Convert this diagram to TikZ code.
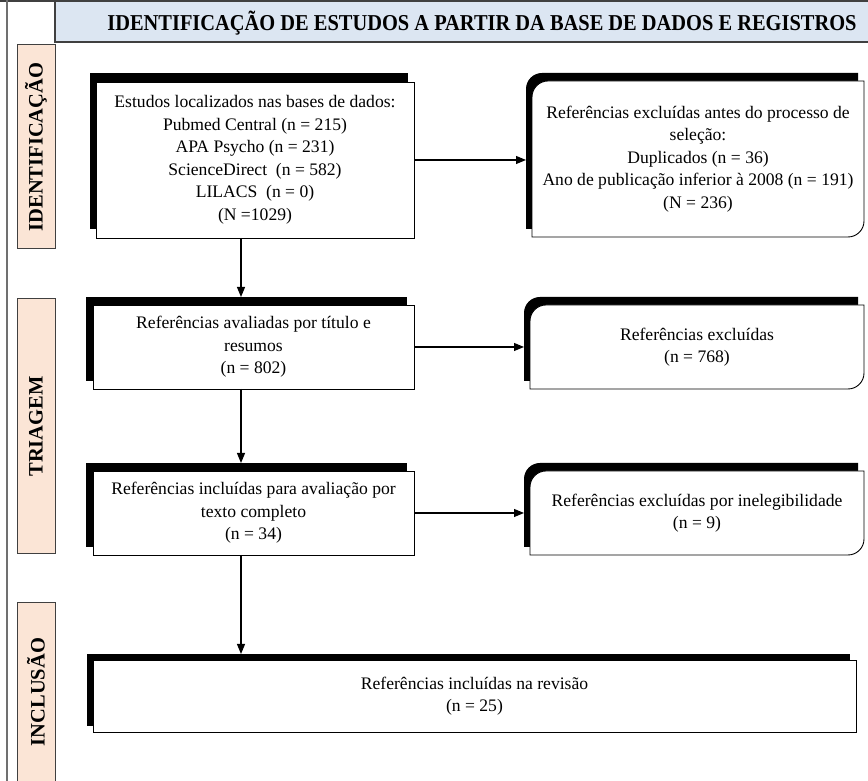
\documentclass[tikz,border=0pt]{standalone}
\usepackage{fontspec}
\setmainfont{Liberation Serif}
\newfontfamily\hdrfont[FakeStretch=0.9]{Liberation Serif}
\usetikzlibrary{arrows.meta,calc,backgrounds}
\definecolor{hdrblue}{HTML}{DCE6F2}
\definecolor{peach}{HTML}{FBE5D6}
\definecolor{framegray}{HTML}{404040}
\definecolor{linegray}{HTML}{707070}
\newcommand{\roundedbox}[1]{%
  \begin{pgfonlayer}{background}
  \fill[black] ($(#1.south west)+(-6,8)$) -- ($(#1.north west)+(-6,-8)$)
     arc[start angle=180,end angle=90,radius=16] -- ($(#1.north east)+(-6,8)$)
     -- ($(#1.south east)+(-6,24)$) arc[start angle=0,end angle=-90,radius=16] -- cycle;
  \filldraw[fill=white,draw=black,line width=0.9pt] (#1.south west) -- ($(#1.north west)+(0,-16)$)
     arc[start angle=180,end angle=90,radius=16] -- (#1.north east)
     -- ($(#1.south east)+(0,16)$) arc[start angle=0,end angle=-90,radius=16] -- cycle;
  \end{pgfonlayer}}
\begin{document}
\begin{tikzpicture}[x=1pt,y=1pt,
  every node/.style={inner sep=0pt,outer sep=0pt},
  txt/.style={font=\fontsize{17.6}{22.5}\selectfont, align=center, text=black},
  mainbox/.style={draw=black, line width=0.9pt, fill=white},
  shadowbox/.style={fill=black, draw=none},
  sidebox/.style={draw=framegray, line width=1pt, fill=peach},
  sidelabel/.style={font=\fontsize{20.5}{24}\selectfont\bfseries},
  conn/.style={line width=1.1pt, -{Triangle[length=10pt,width=8pt]}}
]
\useasboundingbox (0,0) rectangle (868,781);
% outer frame
\draw[framegray, line width=2pt] (0,780) -- (868,780);
\draw[linegray, line width=1.2pt] (7,781) -- (7,0);
% header
\node[draw=framegray, line width=1.2pt, fill=hdrblue, minimum width=817, minimum height=41] (hdr) at (463.5,759.5) {};
\node[font=\hdrfont\fontsize{22.7}{26}\selectfont\bfseries] (htitle) at (482,758) {IDENTIFICAÇÃO DE ESTUDOS A PARTIR DA BASE DE DADOS E REGISTROS};
% side labels
\node[sidebox, minimum width=38, minimum height=204] (side1) at (36,634) {};
\node[sidelabel, rotate=90] (lab1) at (side1) {IDENTIFICAÇÃO};
\node[sidebox, minimum width=38, minimum height=255] (side2) at (36,354.5) {};
\node[sidelabel, rotate=90] (lab2) at (side2) {TRIAGEM};
\node[sidebox, minimum width=38, minimum height=184] (side3) at (36,86) {};
\node[sidelabel, rotate=90] (lab3) at (36,89) {INCLUSÃO};
% box 1
\node[shadowbox, minimum width=318, minimum height=156] (s1) at (249,630) {};
\node[mainbox, txt, minimum width=318, minimum height=156] (b1) at (255,621) {Estudos localizados nas bases de dados:\\Pubmed Central (n = 215)\\APA Psycho (n = 231)\\ScienceDirect\ \ (n = 582)\\LILACS\ \ (n = 0)\\(N =1029)};
% right box 1
\node[txt, minimum width=332, minimum height=156] (r1) at (698,622) {Referências excluídas antes do processo de\\seleção:\\Duplicados (n = 36)\\Ano de publicação inferior à 2008 (n = 191)\\(N = 236)};
\roundedbox{r1}
% box 2
\node[shadowbox, minimum width=321, minimum height=84] (s2) at (246.5,442) {};
\node[mainbox, txt, minimum width=321, minimum height=84] (b2) at (253.5,434) {Referências avaliadas por título e\\resumos\\(n = 802)};
\node[txt, minimum width=334, minimum height=84] (r2) at (697,434) {Referências excluídas\\(n = 768)};
\roundedbox{r2}
% box 3
\node[shadowbox, minimum width=321, minimum height=84] (s3) at (246.5,276) {};
\node[mainbox, txt, minimum width=321, minimum height=84] (b3) at (253.5,268) {Referências incluídas para avaliação por\\texto completo\\(n = 34)};
\node[txt, minimum width=334, minimum height=84] (r3) at (697,268) {Referências excluídas por inelegibilidade\\(n = 9)};
\roundedbox{r3}
% box 4
\node[shadowbox, minimum width=763, minimum height=72] (s4) at (468.5,91) {};
\node[mainbox, txt, minimum width=763, minimum height=72] (b4) at (474.5,85) {Referências incluídas na revisão\\(n = 25)};
% connectors
\coordinate (col) at (241,0);
\coordinate (r1s) at ($(r1.west)+(-6,0)$);
\coordinate (r2s) at ($(r2.west)+(-6,0)$);
\coordinate (r3s) at ($(r3.west)+(-6,0)$);
\draw[conn] (b1.south -| col) -- (s2.north -| col);
\draw[conn] (b2.south -| col) -- (s3.north -| col);
\draw[conn] (b3.south -| col) -- (s4.north -| col);
\draw[conn] (b1.east) -- (b1.east -| r1s);
\draw[conn] (b2.east) -- (b2.east -| r2s);
\draw[conn] (b3.east) -- (b3.east -| r3s);
\end{tikzpicture}
\end{document}
